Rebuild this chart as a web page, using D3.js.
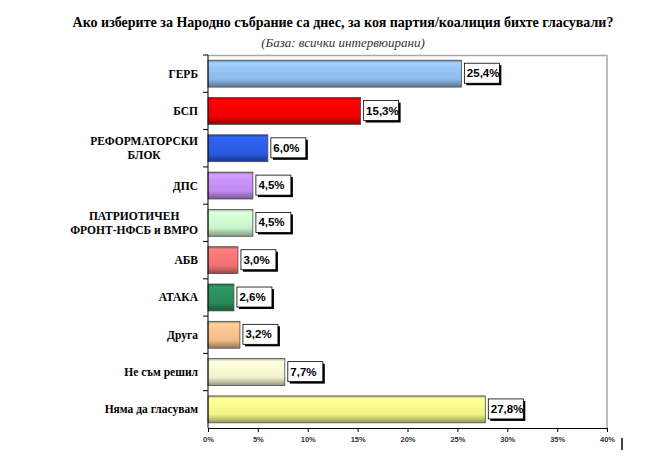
<!DOCTYPE html>
<html>
<head>
<meta charset="utf-8">
<script src="https://cdn.jsdelivr.net/npm/d3@7"></script>
<style>
    body { margin: 0; background: #fff; }
    .serif { font-family: 'Times New Roman', 'Liberation Serif', 'DejaVu Serif', serif; }
    .sans { font-family: 'Liberation Sans', Arial, sans-serif; }
</style>
</head>
<body>
<svg id="drawing_region"></svg>
<script>
const categories = [
    ["ГЕРБ"],
    ["БСП"],
    ["РЕФОРМАТОРСКИ", "БЛОК"],
    ["ДПС"],
    ["ПАТРИОТИЧЕН", "ФРОНТ-НФСБ и ВМРО"],
    ["АБВ"],
    ["АТАКА"],
    ["Друга"],
    ["Не съм решил"],
    ["Няма да гласувам"]
];
const values = [25.4, 15.3, 6.0, 4.5, 4.5, 3.0, 2.6, 3.2, 7.7, 27.8];
const colors = ["#8fbbe8", "#ee0000", "#2a5ae0", "#c08cf0", "#c8f2c8",
    "#f07272", "#2a8a58", "#f2bc88", "#f0f0cc", "#f0f088"];
const ticks = [0, 5, 10, 15, 20, 25, 30, 35, 40];
const title = "Ако изберите за Народно събрание са днес, за коя партия/коалиция бихте гласували?";
const subtitle = "(База: всички интервюирани)";

const config = {
    width: 660,
    height: 476,
    margin: { top: 55, right: 53, bottom: 48, left: 208 }
};

const svg = d3.select('#drawing_region')
    .attr('width', config.width)
    .attr('height', config.height);

const innerW = config.width - config.margin.left - config.margin.right;
const innerH = config.height - config.margin.top - config.margin.bottom;

const data = categories.map((c, i) => ({ id: i, lines: c, value: values[i], color: colors[i] }));

const xscale = d3.scaleLinear().domain([0, 40]).range([0, innerW]);
const yscale = d3.scaleBand().domain(data.map(d => d.id)).range([0, innerH])
    .paddingInner(0.28).paddingOuter(0.14);

// gradients for the 3d look
const defs = svg.append('defs');
data.forEach(d => {
    const base = d3.color(d.color);
    const g = defs.append('linearGradient')
        .attr('id', 'grad' + d.id)
        .attr('x1', 0).attr('y1', 0).attr('x2', 0).attr('y2', 1);
    const stops = [
        [0, base.darker(0.9)],
        [0.1, base.brighter(0.35)],
        [0.3, base.brighter(0.15)],
        [0.7, base],
        [1, base.darker(1.3)]
    ];
    stops.forEach(s => g.append('stop').attr('offset', s[0]).attr('stop-color', s[1]));
});

// titles
const titleText = svg.append('text')
    .attr('class', 'serif')
    .attr('x', 343).attr('y', 27)
    .attr('text-anchor', 'middle')
    .style('font-weight', 'bold')
    .style('font-size', '14px')
    .text(title);
// keep the title at the width it has in the picture
if (titleText.node().getComputedTextLength() > 552) {
    titleText.attr('textLength', 550).attr('lengthAdjust', 'spacingAndGlyphs');
}

svg.append('text')
    .attr('class', 'serif')
    .attr('x', 343).attr('y', 47)
    .attr('text-anchor', 'middle')
    .style('font-style', 'italic')
    .style('font-size', '13px')
    .attr('fill', '#333')
    .text(subtitle);

const chart = svg.append('g')
    .attr('transform', `translate(${config.margin.left}, ${config.margin.top})`);

// frame top and right
chart.append('path')
    .attr('d', `M0,0.5H${innerW}V${innerH}`)
    .attr('fill', 'none')
    .attr('stroke', '#a8a8a8')
    .attr('stroke-width', 1.5);

// bars
chart.selectAll('.bar')
    .data(data)
    .enter()
    .append('rect')
    .attr('class', 'bar')
    .attr('x', 0)
    .attr('y', d => yscale(d.id))
    .attr('width', d => xscale(d.value))
    .attr('height', yscale.bandwidth())
    .attr('fill', d => `url(#grad${d.id})`)
    .attr('stroke', '#4a4a4a')
    .attr('stroke-width', 0.8);

// value labels with shadowed boxes
const labels = chart.selectAll('.vlabel')
    .data(data)
    .enter()
    .append('g')
    .attr('class', 'vlabel')
    .attr('transform', d => `translate(${xscale(d.value) + 3}, ${yscale(d.id) + 3})`);

const boxW = 35, boxH = 20;
labels.append('rect')
    .attr('x', 2).attr('y', 2)
    .attr('width', boxW).attr('height', boxH)
    .attr('fill', '#000');
labels.append('rect')
    .attr('x', 0).attr('y', 0)
    .attr('width', boxW).attr('height', boxH)
    .attr('fill', '#fff')
    .attr('stroke', '#000')
    .attr('stroke-width', 0.8);
labels.append('text')
    .attr('class', 'sans')
    .attr('x', 2.5).attr('y', 14)
    .style('font-weight', 'bold')
    .style('font-size', '11.5px')
    .text(d => d.value.toFixed(1).replace('.', ',') + '%');

// left axis
chart.append('line')
    .attr('x1', 0).attr('x2', 0).attr('y1', 0).attr('y2', innerH)
    .attr('stroke', '#000');
const step = yscale.step();
chart.selectAll('.ytick')
    .data(d3.range(data.length))
    .enter()
    .append('line')
    .attr('x1', -5).attr('x2', 0)
    .attr('y1', i => yscale(i) - yscale.paddingInner() * step / 2)
    .attr('y2', i => yscale(i) - yscale.paddingInner() * step / 2)
    .attr('stroke', '#000');

// category labels
const catLabels = chart.selectAll('.cat')
    .data(data)
    .enter()
    .append('text')
    .attr('class', 'cat serif')
    .style('font-weight', 'bold')
    .style('font-size', '11.5px')
    .attr('text-anchor', 'middle');

catLabels.each(function (d) {
    const t = d3.select(this);
    const cy = yscale(d.id) + yscale.bandwidth() / 2;
    const n = d.lines.length;
    d.lines.forEach((l, k) => {
        t.append('tspan')
            .attr('y', cy + 4 + (k - (n - 1) / 2) * 14)
            .text(l);
    });
    let maxW = 0;
    t.selectAll('tspan').each(function () {
        maxW = Math.max(maxW, this.getComputedTextLength());
    });
    t.selectAll('tspan').attr('x', -10 - maxW / 2);
});

// bottom axis
const xaxis = d3.axisBottom(xscale)
    .tickValues(ticks)
    .tickSize(4)
    .tickFormat(d => d + '%');

const xg = chart.append('g')
    .attr('transform', `translate(0, ${innerH})`)
    .call(xaxis);
xg.select('.domain').attr('stroke', '#000');
xg.selectAll('.tick line').attr('stroke', '#000');
xg.selectAll('text')
    .attr('class', 'sans')
    .attr('dy', '0.9em')
    .attr('fill', '#333')
    .style('font-weight', 'bold')
    .style('font-size', '7.5px');

// stray marker at bottom right of the original picture
svg.append('line')
    .attr('x1', 622).attr('x2', 622)
    .attr('y1', 438).attr('y2', 450)
    .attr('stroke', '#000')
    .attr('stroke-width', 1.5);
</script>
</body>
</html>
